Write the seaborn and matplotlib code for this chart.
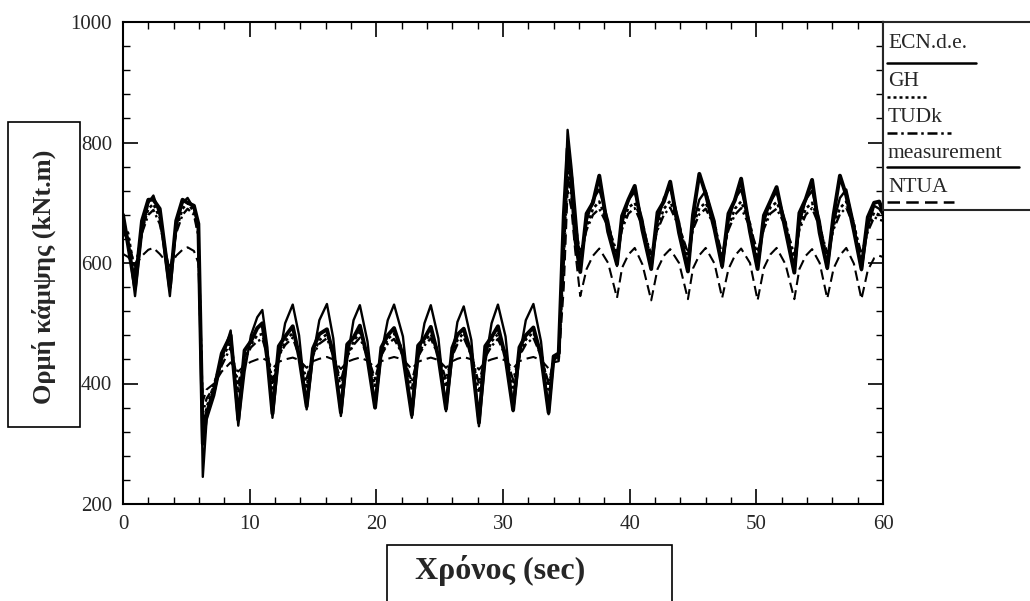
import pandas as pd
import matplotlib.pyplot as plt
import seaborn as sns
from matplotlib.patches import Rectangle
from matplotlib.ticker import MultipleLocator

# time grid (sec)
time_s = [0.0, 0.4, 0.95, 1.5, 2.0, 2.4, 2.9, 3.7, 4.2, 4.7, 5.1, 5.6, 5.95, 6.3, 6.6,
          7.2, 7.8, 8.5,
          9.1, 9.6, 10.1, 10.6, 11.0, 11.4,
          11.8, 12.3, 12.8, 13.4, 13.9,
          14.5, 15.0, 15.5, 16.1, 16.6,
          17.2, 17.7, 18.2, 18.7, 19.3,
          19.9, 20.4, 20.9, 21.4, 22.1,
          22.8, 23.3, 23.8, 24.3, 24.9,
          25.5, 26.0, 26.4, 26.9, 27.5,
          28.1, 28.6, 29.1, 29.6, 30.2,
          30.8, 31.3, 31.8, 32.4, 33.0,
          33.6, 34.0, 34.4, 34.8, 35.1, 35.4, 35.7,
          36.1, 36.6, 37.1, 37.6, 38.3,
          39.0, 39.4, 39.9, 40.4, 41.0,
          41.7, 42.2, 42.7, 43.2, 43.9,
          44.6, 45.0, 45.5, 46.0, 46.7,
          47.3, 47.8, 48.3, 48.8, 49.5,
          50.1, 50.6, 51.1, 51.6, 52.3,
          53.0, 53.4, 53.9, 54.4, 55.0,
          55.6, 56.1, 56.6, 57.1, 57.7,
          58.3, 58.8, 59.3, 59.7, 60.0]

ecn = [665, 640, 545, 650, 700, 712, 680, 545, 660, 700, 708, 690, 660, 245, 340,
       380, 440, 488,
       330, 420, 480, 510, 522, 460,
       343, 440, 500, 531, 480,
       357, 445, 505, 532, 475,
       346, 440, 505, 530, 470,
       359, 450, 505, 531, 478,
       343, 440, 500, 530, 475,
       354, 445, 502, 528, 472,
       329, 435, 500, 531, 478,
       354, 445, 505, 532, 470,
       349, 440, 445, 650, 821, 760, 690,
       590, 670, 705, 722, 670,
       595, 665, 705, 718, 672,
       590, 668, 708, 725, 668,
       588, 665, 705, 720, 670,
       592, 670, 706, 722, 665,
       590, 668, 702, 718, 668,
       585, 665, 705, 720, 670,
       590, 668, 708, 722, 665,
       588, 660, 695, 690, 680]

gh = [660, 650, 580, 655, 690, 698, 675, 575, 655, 690, 700, 685, 650, 320, 360,
      400, 440, 470,
      385, 440, 465, 480, 482, 450,
      392, 445, 470, 484, 452,
      395, 448, 472, 482, 455,
      390, 445, 470, 485, 450,
      396, 448, 474, 483, 455,
      390, 446, 470, 482, 452,
      394, 447, 472, 484, 454,
      385, 444, 470, 482, 450,
      393, 447, 473, 485, 452,
      390, 440, 440, 620, 760, 720, 670,
      605, 660, 690, 702, 665,
      608, 662, 692, 700, 668,
      604, 660, 690, 703, 664,
      606, 662, 691, 700, 667,
      603, 660, 690, 702, 665,
      607, 661, 692, 701, 668,
      604, 660, 690, 700, 664,
      606, 662, 691, 702, 666,
      605, 658, 684, 680, 676]

tudk = [650, 640, 590, 650, 680, 688, 665, 585, 650, 680, 690, 680, 645, 350, 375,
        395, 430, 460,
        400, 440, 460, 470, 474, 448,
        405, 446, 464, 476, 446,
        408, 447, 466, 475, 447,
        404, 445, 464, 476, 445,
        408, 447, 466, 474, 447,
        403, 445, 463, 475, 446,
        407, 446, 465, 476, 447,
        400, 444, 462, 474, 445,
        406, 446, 465, 476, 446,
        400, 438, 440, 600, 745, 710, 660,
        615, 655, 680, 690, 660,
        618, 656, 682, 691, 662,
        614, 655, 680, 692, 660,
        617, 656, 681, 690, 661,
        615, 655, 680, 691, 660,
        618, 657, 682, 690, 662,
        614, 655, 680, 691, 660,
        616, 656, 681, 692, 661,
        615, 652, 676, 672, 670]

measurement = [680, 630, 560, 670, 705, 705, 690, 560, 670, 705, 700, 695, 665, 300, 350,
               390, 450, 480,
               340, 455, 470, 492, 500, 440,
               350, 462, 478, 495, 445,
               362, 458, 482, 490, 448,
               352, 465, 476, 496, 442,
               360, 460, 480, 492, 447,
               348, 463, 475, 494, 444,
               358, 459, 481, 491, 448,
               335, 462, 477, 495, 443,
               356, 460, 480, 493, 446,
               352, 445, 450, 680, 790, 740, 640,
               585, 682, 700, 745, 652,
               598, 678, 705, 728, 655,
               590, 684, 702, 735, 650,
               586, 680, 748, 715, 656,
               595, 682, 704, 740, 652,
               590, 679, 702, 726, 655,
               584, 683, 706, 738, 650,
               592, 680, 745, 712, 654,
               590, 676, 700, 702, 685]

ntua = [615, 610, 595, 612, 622, 625, 615, 595, 612, 622, 626, 620, 600, 370, 390,
        400, 420, 435,
        420, 430, 436, 440, 442, 438,
        425, 436, 440, 443, 439,
        426, 437, 441, 444, 440,
        424, 436, 440, 443, 438,
        426, 437, 441, 444, 440,
        424, 436, 440, 443, 439,
        426, 437, 441, 444, 440,
        423, 436, 440, 443, 438,
        425, 437, 441, 444, 439,
        425, 435, 437, 560, 720, 690, 620,
        545, 590, 612, 624, 600,
        542, 592, 614, 625, 598,
        538, 590, 612, 623, 600,
        540, 591, 613, 625, 599,
        542, 590, 612, 624, 600,
        538, 592, 614, 625, 598,
        540, 590, 612, 623, 600,
        541, 591, 613, 625, 599,
        540, 588, 608, 612, 610]

series_names = ['ECN.d.e.', 'GH', 'TUDk', 'measurement', 'NTUA']

df = pd.DataFrame({'t': time_s, 'ECN.d.e.': ecn, 'GH': gh, 'TUDk': tudk,
                   'measurement': measurement, 'NTUA': ntua})

styles = {
    'ECN.d.e.': dict(ls='-', lw=1.7),
    'GH': dict(ls=(0, (1.2, 1.2)), lw=1.9),
    'TUDk': dict(ls=(0, (4, 1.5, 1, 1.5)), lw=1.7),
    'measurement': dict(ls='-', lw=2.8),
    'NTUA': dict(ls=(0, (5, 2.5)), lw=1.5),
}

sns.set_style('ticks')
plt.rcParams['font.family'] = ['Liberation Serif', 'DejaVu Serif']

fig = plt.figure(figsize=(10.30, 6.01), dpi=100)
ax = fig.add_axes([123/1030, 1 - 504/601, (883 - 123)/1030, (504 - 22)/601])

for name in series_names:
    sns.lineplot(data=df, x='t', y=name, ax=ax, color='black',
                 linestyle=styles[name]['ls'], linewidth=styles[name]['lw'],
                 estimator=None, sort=False)

ax.set_xlim(0, 60)
ax.set_ylim(200, 1000)
ax.set_xlabel('')
ax.set_ylabel('')
ax.xaxis.set_major_locator(MultipleLocator(10))
ax.xaxis.set_minor_locator(MultipleLocator(2))
ax.yaxis.set_major_locator(MultipleLocator(200))
ax.yaxis.set_minor_locator(MultipleLocator(40))
ax.tick_params(which='both', direction='in', top=True, right=True, color='black')
ax.tick_params(which='major', length=11, width=1.2, labelsize=15, pad=8)
ax.tick_params(which='minor', length=5, width=1.0)
for s in ax.spines.values():
    s.set_linewidth(1.5)
    s.set_color('black')

# legend box on the right
lax = fig.add_axes([883/1030, 1 - 210/601, 160/1030, (210 - 22)/601])
lax.set_xlim(0, 160)
lax.set_ylim(188, 0)
lax.set_xticks([])
lax.set_yticks([])
for s in lax.spines.values():
    s.set_linewidth(1.5)
legend_rows = [(22, 41, 89), (60, 75, 39), (95, 111, 64), (131, 145, 132), (165, 180, 67)]
for name, (ty, ly, ll) in zip(series_names, legend_rows):
    lax.text(5, ty, name, fontsize=15.5, va='center', ha='left')
    lax.plot([4, 4 + ll], [ly, ly], color='black',
             linestyle=styles[name]['ls'], linewidth=1.8)

# axis titles in boxes
fig.add_artist(Rectangle((8/1030, 1 - 427/601), 72/1030, 305/601, transform=fig.transFigure,
                         fill=False, edgecolor='black', linewidth=1.2))
fig.text(44/1030, 1 - 277/601, 'Ορμή κάμψης (kNt.m)', rotation=90, ha='center', va='center',
         fontsize=19, fontweight='bold')
fig.add_artist(Rectangle((387/1030, -0.05), 285/1030, 0.05 + 1 - 545/601, transform=fig.transFigure,
                         fill=False, edgecolor='black', linewidth=1.2))
fig.text(500/1030, 1 - 571/601, 'Χρόνος (sec)', ha='center', va='center',
         fontsize=23, fontweight='bold')

fig.savefig('out.png', dpi=100)
